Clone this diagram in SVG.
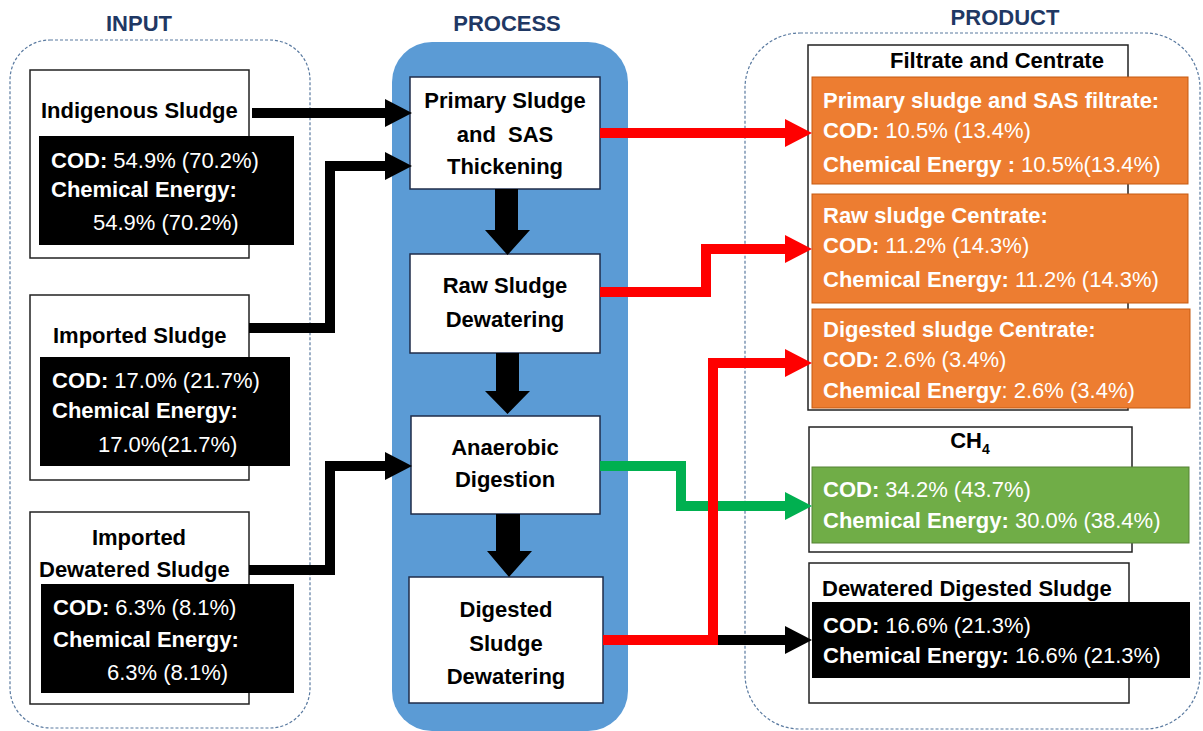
<svg xmlns="http://www.w3.org/2000/svg" width="1203" height="731" viewBox="0 0 1203 731">
  <style>
    text { font-family: "Liberation Sans", Arial, sans-serif; font-size: 22px; }
    .title { font-weight: bold; fill: #1f3864; text-anchor: middle; }
    .b { font-weight: bold; }
    .w { fill: #ffffff; }
    .k { fill: #000000; }
    .mid { text-anchor: middle; }
    .zone { fill: none; stroke: #5a7aa0; stroke-width: 1.2; stroke-dasharray: 3 2; }
    .card { fill: #ffffff; stroke: #222222; stroke-width: 1.5; }
    .step { fill: #ffffff; stroke: #1f2d4a; stroke-width: 1.5; }
    .dark { fill: #000000; }
    .orange { fill: #ed7d31; stroke: #c55a11; stroke-width: 1; }
    .green { fill: #70ad47; stroke: #548235; stroke-width: 1; }
    .flow { fill: none; stroke-width: 10; stroke-linejoin: miter; stroke-linecap: butt; }
  </style>
  <defs>
    <marker id="headK" markerUnits="userSpaceOnUse" markerWidth="28" markerHeight="28" refX="0" refY="14" orient="auto">
      <path d="M0,0 L27,14 L0,28 Z" fill="#000000"/>
    </marker>
    <marker id="headR" markerUnits="userSpaceOnUse" markerWidth="28" markerHeight="28" refX="0" refY="14" orient="auto">
      <path d="M0,0 L27,14 L0,28 Z" fill="#ff0000"/>
    </marker>
    <marker id="headG" markerUnits="userSpaceOnUse" markerWidth="28" markerHeight="28" refX="0" refY="14" orient="auto">
      <path d="M0,0 L27,14 L0,28 Z" fill="#00b050"/>
    </marker>
  </defs>

  <rect width="1203" height="731" fill="#ffffff"/>

  <!-- column frames -->
  <g id="zones">
    <rect class="zone" x="10" y="40" width="300" height="688" rx="40"/>
    <rect x="392" y="42" width="236" height="689" rx="40" fill="#5b9bd5"/>
    <rect class="zone" x="745" y="33" width="455" height="696" rx="55"/>
    <text class="title" x="139" y="31">INPUT</text>
    <text class="title" x="507" y="31">PROCESS</text>
    <text class="title" x="1005" y="25">PRODUCT</text>
  </g>

  <!-- inputs -->
  <g id="indigenous-sludge">
    <rect class="card" x="30" y="70" width="219" height="188"/>
    <text class="b k" x="41" y="118">Indigenous Sludge</text>
    <rect class="dark" x="39" y="136" width="255" height="109"/>
    <text class="w" x="51" y="168"><tspan class="b">COD:</tspan> 54.9% (70.2%)</text>
    <text class="w b" x="51" y="197">Chemical Energy:</text>
    <text class="w" x="93" y="230">54.9% (70.2%)</text>
  </g>

  <g id="imported-sludge">
    <rect class="card" x="30" y="295" width="219" height="185"/>
    <text class="b k" x="53" y="343">Imported Sludge</text>
    <rect class="dark" x="40" y="357" width="250" height="109"/>
    <text class="w" x="52" y="388"><tspan class="b">COD:</tspan> 17.0% (21.7%)</text>
    <text class="w b" x="52" y="418">Chemical Energy:</text>
    <text class="w" x="98" y="452">17.0%(21.7%)</text>
  </g>

  <g id="imported-dewatered-sludge">
    <rect class="card" x="30" y="512" width="219" height="192"/>
    <text class="b k mid" x="139" y="545">Imported</text>
    <text class="b k" x="39" y="577">Dewatered Sludge</text>
    <rect class="dark" x="41" y="584" width="253" height="109"/>
    <text class="w" x="53" y="615"><tspan class="b">COD:</tspan> 6.3% (8.1%)</text>
    <text class="w b" x="53" y="647">Chemical Energy:</text>
    <text class="w" x="107" y="680">6.3% (8.1%)</text>
  </g>

  <!-- process steps -->
  <g id="thickening">
    <rect class="step" x="410" y="77" width="190" height="112"/>
    <text class="b k mid" x="505" y="108">Primary Sludge</text>
    <text class="b k mid" x="505" y="142" xml:space="preserve">and  SAS</text>
    <text class="b k mid" x="505" y="174">Thickening</text>
  </g>

  <g id="raw-dewatering">
    <rect class="step" x="410" y="254" width="190" height="99"/>
    <text class="b k mid" x="505" y="293">Raw Sludge</text>
    <text class="b k mid" x="505" y="327">Dewatering</text>
  </g>

  <g id="anaerobic-digestion">
    <rect class="step" x="411" y="416" width="189" height="98"/>
    <text class="b k mid" x="505" y="455">Anaerobic</text>
    <text class="b k mid" x="505" y="487">Digestion</text>
  </g>

  <g id="digested-dewatering">
    <rect class="step" x="409" y="577" width="194" height="126"/>
    <text class="b k mid" x="506" y="617">Digested</text>
    <text class="b k mid" x="506" y="651">Sludge</text>
    <text class="b k mid" x="506" y="684">Dewatering</text>
  </g>

  <!-- products -->
  <g id="filtrate-centrate">
    <rect class="card" x="808" y="45" width="320" height="365"/>
    <text class="b k" x="890" y="68">Filtrate and Centrate</text>
  </g>

  <g id="sas-filtrate">
    <rect class="orange" x="812" y="77" width="376" height="107"/>
    <text class="w b" x="823" y="108">Primary sludge and SAS filtrate:</text>
    <text class="w" x="823" y="138"><tspan class="b">COD:</tspan> 10.5% (13.4%)</text>
    <text class="w" x="823" y="172"><tspan class="b">Chemical Energy :</tspan> 10.5%(13.4%)</text>
  </g>

  <g id="raw-centrate">
    <rect class="orange" x="812" y="194" width="376" height="109"/>
    <text class="w b" x="823" y="223">Raw sludge Centrate:</text>
    <text class="w" x="823" y="253"><tspan class="b">COD:</tspan> 11.2% (14.3%)</text>
    <text class="w" x="823" y="287"><tspan class="b">Chemical Energy:</tspan> 11.2% (14.3%)</text>
  </g>

  <g id="digested-centrate">
    <rect class="orange" x="812" y="309" width="378" height="99"/>
    <text class="w b" x="823" y="337">Digested sludge Centrate:</text>
    <text class="w" x="823" y="367"><tspan class="b">COD:</tspan> 2.6% (3.4%)</text>
    <text class="w" x="823" y="398"><tspan class="b">Chemical Energy</tspan>: 2.6% (3.4%)</text>
  </g>

  <g id="methane">
    <rect class="card" x="809" y="427" width="323" height="125"/>
    <text class="b k mid" x="970" y="448">CH<tspan font-size="14" dy="6">4</tspan></text>
    <rect class="green" x="812" y="467" width="377" height="76"/>
    <text class="w" x="823" y="497"><tspan class="b">COD:</tspan> 34.2% (43.7%)</text>
    <text class="w" x="823" y="528"><tspan class="b">Chemical Energy:</tspan> 30.0% (38.4%)</text>
  </g>

  <g id="dewatered-digested-sludge">
    <rect class="card" x="809" y="563" width="320" height="140"/>
    <text class="b k" x="822" y="596">Dewatered Digested Sludge</text>
    <rect class="dark" x="812" y="602" width="378" height="76"/>
    <text class="w" x="823" y="633"><tspan class="b">COD:</tspan> 16.6% (21.3%)</text>
    <text class="w" x="823" y="663"><tspan class="b">Chemical Energy:</tspan> 16.6% (21.3%)</text>
  </g>

  <!-- connectors -->
  <g id="connectors">
    <!-- inputs into the process -->
    <path class="flow" stroke="#000000" d="M252,113 H385" marker-end="url(#headK)"/>
    <path class="flow" stroke="#000000" d="M249,328 H330 V166 H385" marker-end="url(#headK)"/>
    <path class="flow" stroke="#000000" d="M249,570 H330 V466 H385" marker-end="url(#headK)"/>

    <!-- process train -->
    <path fill="#000000" d="M495,189 H518 V230 H530 L507.5,255 L485,230 H495 Z"/>
    <path fill="#000000" d="M496,353 H519 V391 H530 L507.5,414 L485,391 H496 Z"/>
    <path fill="#000000" d="M496,514 H520 V551 H532 L509,577 L487,551 H496 Z"/>

    <!-- side streams -->
    <path class="flow" stroke="#000000" d="M713,640 H785" marker-end="url(#headK)"/>
    <path class="flow" stroke="#00b050" d="M600,466 H681 V506 H785" marker-end="url(#headG)"/>
    <path class="flow" stroke="#ff0000" d="M600,133 H785" marker-end="url(#headR)"/>
    <path class="flow" stroke="#ff0000" d="M600,292 H706 V249 H785" marker-end="url(#headR)"/>
    <path class="flow" stroke="#ff0000" d="M603,640 H713 V363 H785" marker-end="url(#headR)"/>
  </g>
</svg>
